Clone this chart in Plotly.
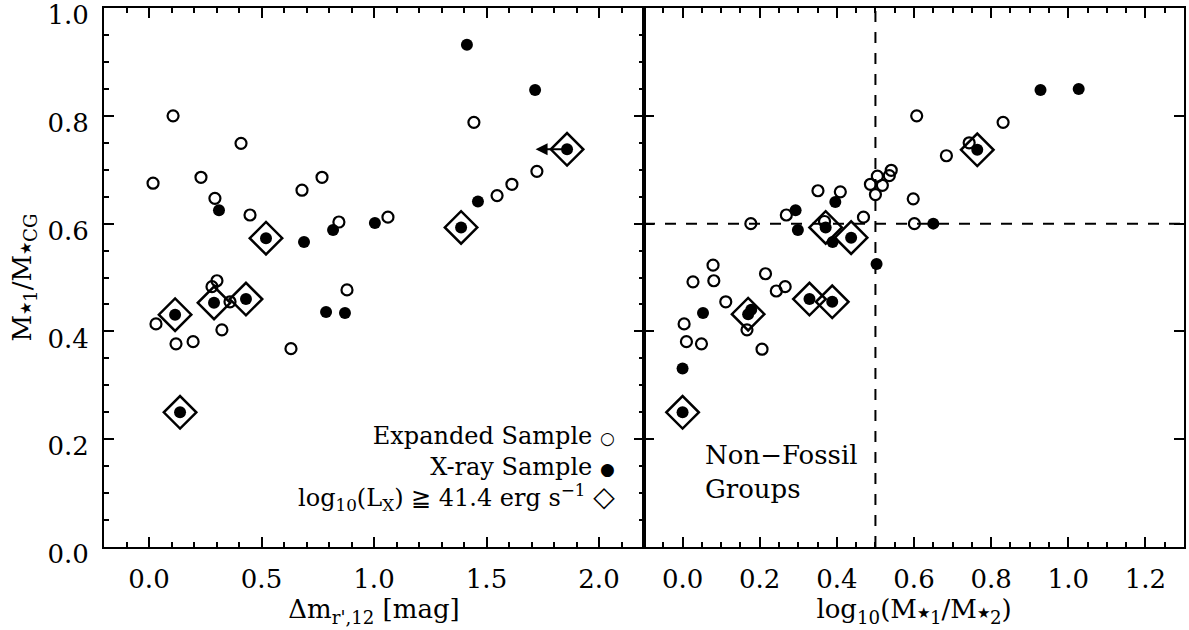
import plotly.graph_objects as go
from plotly.subplots import make_subplots

# ---- left panel: magnitude gap vs. stellar mass fraction ----
dm_open = [0.018, 0.107, 0.231, 0.293, 0.409, 0.449, 0.680, 0.769, 0.844, 0.880,
           0.302, 0.280, 1.444, 1.724, 1.613, 1.547, 1.062, 0.031, 0.324, 0.120,
           0.196, 0.631, 0.360]
frac_open_l = [0.675, 0.800, 0.686, 0.647, 0.749, 0.616, 0.662, 0.686, 0.603, 0.477,
               0.494, 0.483, 0.788, 0.697, 0.673, 0.652, 0.612, 0.414, 0.403, 0.377,
               0.381, 0.368, 0.455]

dm_xray = [0.311, 0.520, 0.689, 0.818, 1.004, 1.413, 1.716, 1.858, 1.462, 1.387,
           0.116, 0.289, 0.431, 0.787, 0.871, 0.138]
frac_xray_l = [0.625, 0.573, 0.566, 0.588, 0.601, 0.932, 0.848, 0.738, 0.641, 0.593,
               0.431, 0.453, 0.460, 0.436, 0.434, 0.250]
bright_l = [False, True, False, False, False, False, False, True, False, True,
            True, True, True, False, False, True]
upper_limit_l = [False, False, False, False, False, False, False, True, False, False,
                 False, False, False, False, False, False]
arrow_len = 0.14

# ---- right panel: log mass ratio vs. stellar mass fraction ----
lr_open = [0.010, 0.049, 0.004, 0.027, 0.079, 0.081, 0.112, 0.167, 0.206, 0.215,
           0.243, 0.266, 0.177, 0.269, 0.351, 0.409, 0.368, 0.469, 0.487, 0.500,
           0.505, 0.518, 0.536, 0.541, 0.607, 0.831, 0.743, 0.684, 0.598, 0.601]
frac_open_r = [0.381, 0.377, 0.414, 0.492, 0.523, 0.494, 0.455, 0.403, 0.367, 0.507,
               0.475, 0.483, 0.600, 0.616, 0.661, 0.659, 0.604, 0.612, 0.673, 0.654,
               0.688, 0.671, 0.689, 0.699, 0.800, 0.788, 0.750, 0.726, 0.646, 0.600]

lr_xray = [0.000, 0.000, 0.053, 0.170, 0.178, 0.293, 0.299, 0.396, 0.371, 0.389,
           0.437, 0.503, 0.329, 0.388, 0.650, 0.764, 0.928, 1.027]
frac_xray_r = [0.250, 0.331, 0.434, 0.432, 0.440, 0.625, 0.588, 0.640, 0.593, 0.566,
               0.574, 0.525, 0.460, 0.455, 0.600, 0.737, 0.848, 0.850]
bright_r = [True, False, False, True, False, False, False, False, True, False,
            True, False, True, True, False, True, False, False]

fossil_ratio = 0.5
fossil_frac = 0.6

FONT = "DejaVu Serif"
FS = 26
STAR = "<span style='font-size:15px'>★</span>"

fig = make_subplots(rows=1, cols=2, shared_yaxes=True, horizontal_spacing=0)


def add_panel(col, xo, yo, xx, yx, bright):
    fig.add_trace(go.Scatter(
        x=xo, y=yo, mode="markers",
        marker=dict(symbol="circle-open", size=11, color="black", line=dict(width=2.2)),
        showlegend=False, hoverinfo="skip"), row=1, col=col)
    fig.add_trace(go.Scatter(
        x=xx, y=yx, mode="markers",
        marker=dict(symbol="circle", size=12, color="black"),
        showlegend=False, hoverinfo="skip"), row=1, col=col)
    bx = [a for a, b in zip(xx, bright) if b]
    by = [a for a, b in zip(yx, bright) if b]
    fig.add_trace(go.Scatter(
        x=bx, y=by, mode="markers",
        marker=dict(symbol="diamond-open", size=25, color="black", line=dict(width=2.5)),
        showlegend=False, hoverinfo="skip"), row=1, col=col)


add_panel(1, dm_open, frac_open_l, dm_xray, frac_xray_l, bright_l)
add_panel(2, lr_open, frac_open_r, lr_xray, frac_xray_r, bright_r)

# upper limit arrow on the left panel
for xv, yv, up in zip(dm_xray, frac_xray_l, upper_limit_l):
    if up:
        fig.add_annotation(x=xv - arrow_len, y=yv, ax=xv, ay=yv, xref="x", yref="y",
                           axref="x", ayref="y", text="", showarrow=True,
                           arrowhead=2, arrowsize=1.2, arrowwidth=2, arrowcolor="black",
                           standoff=0, startstandoff=0)

# fossil-group criteria
fig.add_vline(x=fossil_ratio, line=dict(color="black", width=2, dash="11px,10px"), row=1, col=2)
fig.add_hline(y=fossil_frac, line=dict(color="black", width=2, dash="11px,10px"), row=1, col=2)

axis_common = dict(
    showline=True, linecolor="black", linewidth=2, mirror="allticks",
    ticks="inside", ticklen=10, tickwidth=2, tickcolor="black",
    showgrid=False, zeroline=False, ticklabeloverflow="allow", automargin=False,
    tickfont=dict(family=FONT, size=FS, color="black"),
    title_font=dict(family=FONT, size=FS, color="black"),
)

fig.update_xaxes(axis_common)
fig.update_yaxes(axis_common)

fig.update_xaxes(range=[-0.2, 2.2], dtick=0.5, tick0=0, tickformat=".1f",
                 minor=dict(dtick=0.1, ticks="inside", ticklen=5, tickwidth=1.5, tickcolor="black"),
                 ticklabelstandoff=8, title_text="Δm<sub>r',12</sub> [mag]",
                 title_standoff=2, row=1, col=1)
fig.update_xaxes(range=[-0.1, 1.3], dtick=0.2, tick0=0, tickformat=".1f",
                 minor=dict(dtick=0.05, ticks="inside", ticklen=5, tickwidth=1.5, tickcolor="black"),
                 ticklabelstandoff=8,
                 title_text="log<sub>10</sub>(M" + STAR + "<sub>1</sub>/M" + STAR + "<sub>2</sub>)",
                 title_standoff=2, row=1, col=2)
fig.update_yaxes(range=[0, 1.0001], dtick=0.2, tick0=0, tickformat=".1f",
                 minor=dict(dtick=0.05, ticks="inside", ticklen=5, tickwidth=1.5, tickcolor="black"),
                 ticklabelstandoff=8, ticklabelshift=7,
                 title_text="M" + STAR + "<sub>1</sub>/M" + STAR + "<sub>CG</sub>",
                 title_standoff=8, row=1, col=1)
fig.update_yaxes(showticklabels=False, row=1, col=2)

# legend block (symbols to the right of the labels, as in the original)
legend_lines = [
    "Expanded Sample <span style='font-size:17px'>○</span>",
    "X-ray Sample <span style='font-size:17px'>●</span>",
    "log<sub>10</sub>(L<sub>X</sub>) ≧ 41.4 erg s<sup>−1</sup> "
    "<span style='font-size:28px'>◇</span>",
]
fig.add_annotation(x=0.95, y=0.146, xref="x domain", yref="y domain",
                   text="<br>".join(legend_lines), showarrow=False,
                   xanchor="right", yanchor="middle", align="right",
                   font=dict(family=FONT, size=24, color="black"))

fig.add_annotation(x=0.109, y=0.139, xref="x2 domain", yref="y2 domain",
                   text="Non−Fossil<br>Groups", showarrow=False, xanchor="left",
                   yanchor="middle", align="left",
                   font=dict(family=FONT, size=FS, color="black"))

fig.update_layout(
    width=1189, height=630,
    margin=dict(l=104, r=5, t=8, b=83),
    paper_bgcolor="white", plot_bgcolor="white",
    font=dict(family=FONT, size=FS, color="black"),
)

# drop the browser's default body margin so the figure sits at the page corner
fig.write_html("out.html", config={"displayModeBar": False},
               post_script="document.body.style.margin='0';")
